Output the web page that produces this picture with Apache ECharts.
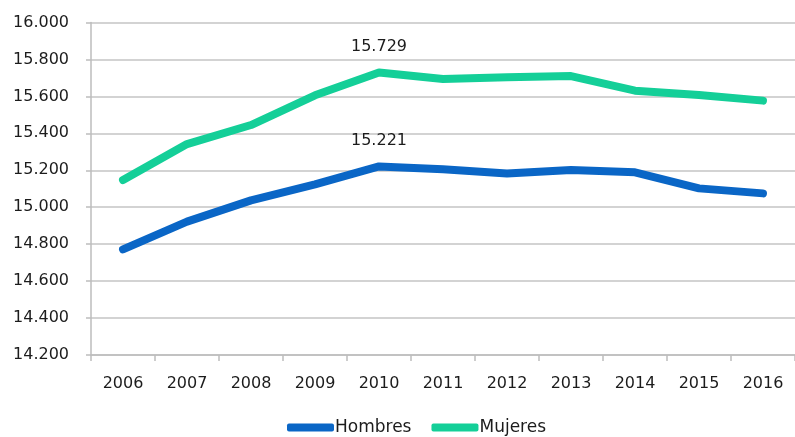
<!DOCTYPE html>
<html>
<head>
<meta charset="utf-8">
<script src="https://cdn.jsdelivr.net/npm/echarts@6/dist/echarts.min.js"></script>
<style>
  html, body { margin: 0; padding: 0; background: #fff; }
  #chart { width: 795px; height: 437px; }
</style>
</head>
<body>
<div id="chart"></div>
<script>
// Años del eje de categorías
var years = ['2006', '2007', '2008', '2009', '2010', '2011', '2012', '2013', '2014', '2015', '2016'];

// Series por sexo
var hombres = [14772, 14922, 15037, 15124, 15221, 15205, 15182, 15202, 15189, 15102, 15075];
var mujeres = [15147, 15342, 15445, 15606, 15729, 15694, 15703, 15710, 15631, 15608, 15577];

// Años con la cifra rotulada sobre el punto
var labelledYears = ['2010'];

// Escala del eje de valores
var yMin = 14200;
var yMax = 16000;
var yStep = 200;

function fmt(v) {
  // separador de miles con punto
  var s = String(Math.round(v));
  return s.replace(/\B(?=(\d{3})+(?!\d))/g, '.');
}

function withLabels(values) {
  return values.map(function (v, i) {
    var show = labelledYears.indexOf(years[i]) !== -1;
    return { value: v, label: { show: show } };
  });
}

var font = '"DejaVu Sans", "Open Sans", sans-serif';
var textColor = '#1c1c1c';

var chart = echarts.init(document.getElementById('chart'), null, { renderer: 'canvas' });

function lineSeries(name, values, color) {
  return {
    name: name,
    type: 'line',
    data: withLabels(values),
    symbol: 'circle',
    symbolSize: 2,
    showSymbol: true,
    smooth: false,
    color: color,
    itemStyle: { color: color },
    lineStyle: { width: 8, color: color, cap: 'round', join: 'round' },
    label: {
      show: false,
      position: 'top',
      distance: 17,
      fontFamily: font,
      fontSize: 16,
      color: textColor,
      formatter: function (p) { return fmt(p.value); }
    },
    emphasis: { disabled: true }
  };
}

chart.setOption({
  animation: false,
  backgroundColor: '#ffffff',
  grid: { left: 91, top: 22.5, height: 332.5, width: 713, containLabel: false },
  legend: {
    top: 414,
    left: 282,
    itemWidth: 47,
    itemHeight: 8,
    itemGap: 20,
    icon: 'roundRect',
    textStyle: { fontFamily: font, fontSize: 17, color: textColor, padding: [0, 0, 0, -4] },
    data: ['Hombres', 'Mujeres']
  },
  xAxis: {
    type: 'category',
    data: years,
    boundaryGap: true,
    axisLine: { show: true, lineStyle: { color: '#BDBDBD', width: 1.5 } },
    axisTick: { show: true, length: 6, inside: false, lineStyle: { color: '#BDBDBD', width: 1.5 } },
    axisLabel: { margin: 21, fontFamily: font, fontSize: 16, color: textColor },
    splitLine: { show: false }
  },
  yAxis: {
    type: 'value',
    min: yMin,
    max: yMax,
    interval: yStep,
    axisLine: { show: true, lineStyle: { color: '#BDBDBD', width: 1.5 } },
    axisTick: { show: true, length: 5, lineStyle: { color: '#BDBDBD', width: 1.5 } },
    axisLabel: {
      margin: 22,
      fontFamily: font,
      fontSize: 16,
      color: textColor,
      formatter: function (v) { return fmt(v); }
    },
    splitLine: { show: true, lineStyle: { color: '#C4C4C4', width: 1.5 } }
  },
  series: [
    lineSeries('Hombres', hombres, '#0A66C6'),
    lineSeries('Mujeres', mujeres, '#14CF98')
  ]
});
</script>
</body>
</html>
